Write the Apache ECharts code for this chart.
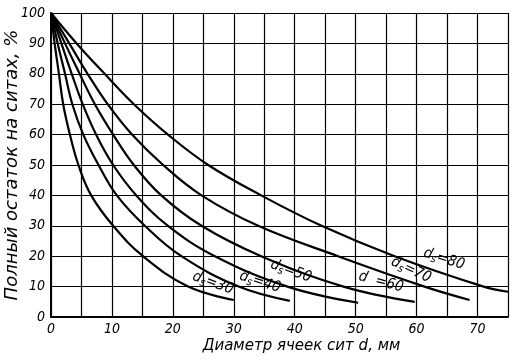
<!DOCTYPE html>
<html><head><meta charset="utf-8">
<script src="https://cdn.jsdelivr.net/npm/echarts@6/dist/echarts.min.js"></script>
<style>html,body{margin:0;padding:0;background:#fff}#c{width:512px;height:360px}</style>
</head><body><div id="c"></div>
<script>
// Curve data: [d (mm), residue (%)]
const ds30 = [[0,100],[0.6,90],[1.3,80],[2.0,70],[3.1,60],[4.5,50],[6.6,40],[10.2,30],[15.1,20],[22.5,10],[30,5.6]];
const ds40 = [[0,100],[1.1,90],[2.3,80],[3.5,70],[5.3,60],[7.8,50],[10.8,40],[15.4,30],[21.4,20],[30.8,10],[39.2,5.3]];
const ds50 = [[0,100],[1.7,90],[3.4,80],[5.2,70],[7.4,60],[10.2,50],[14.0,40],[19.2,30],[26.9,20],[38.8,10],[50.4,4.7]];
const ds60 = [[0,100],[2.3,90],[4.7,80],[7.2,70],[10.2,60],[13.6,50],[18.1,40],[24.7,30],[34.5,20],[48.0,10],[59.7,5.0]];
const ds70 = [[0,100],[3.0,90],[6.0,80],[9.3,70],[13.3,60],[18.4,50],[24.7,40],[34.0,30],[47.1,20],[61.3,10],[68.7,5.6]];
const ds80 = [[0,100],[4.2,90],[8.8,80],[13.6,70],[19.2,60],[25.8,50],[34.5,40],[44.4,30],[56.4,20],[71.0,10],[75,8.3]];
const curveNames = ['30','40','50','60','70','80'];
const yTicks = [0,10,20,30,40,50,60,70,80,90,100];
const xTicks = [0,10,20,30,40,50,60,70];

const font = 'DejaVu Sans Condensed';
const font2 = 'DejaVu Sans';
const chart = echarts.init(document.getElementById('c'), null, {renderer:'canvas'});
const curves = [ds30, ds40, ds50, ds60, ds70, ds80];
const series = curves.map((d,i)=>({
  type:'line', name:'ds='+curveNames[i], data:d, showSymbol:false, smooth:0.4,
  lineStyle:{color:'#000', width:2.2}, silent:true, z:5
}));
function lbl(text, sub, x, y, rot){
  return {type:'text', x:x, y:y, rotation:rot*Math.PI/180, z:10,
    style:{rich:{a:{fontFamily:font,fontStyle:'italic',fontSize:15,fill:'#000'},
                 s:{fontFamily:font,fontStyle:'italic',fontSize:11,fill:'#000',padding:[7,0,0,0]}},
      text:'{a|d}'+(sub?'{s|s}':'{a|  }')+'{a|='+text+'}', align:'center', verticalAlign:'middle', fill:'#000'}};
}
chart.setOption({
  animation:false,
  backgroundColor:'#fff',
  grid:{left:51, right:4, top:13, bottom:43, containLabel:false, outerBoundsMode:'none'},
  xAxis:{type:'value', min:0, max:75, interval:5,
    name:'Диаметр ячеек сит d, мм', nameLocation:'middle', nameGap:22, nameMoveOverlap:false,
    nameTextStyle:{fontFamily:font2, fontStyle:'italic', fontSize:15, color:'#000', padding:[0,0,0,44]},
    axisLine:{lineStyle:{color:'#000', width:2}}, axisTick:{show:false},
    axisLabel:{fontFamily:font, fontStyle:'italic', fontSize:14, color:'#000', margin:5,
      formatter:v=>xTicks.includes(v)?String(v):''},
    splitLine:{show:true, lineStyle:{color:'#000', width:1.2}}},
  yAxis:{type:'value', min:0, max:100, interval:10,
    name:'Полный остаток на ситах, %', nameLocation:'middle', nameGap:30, nameMoveOverlap:false,
    nameTextStyle:{fontFamily:font2, fontStyle:'italic', fontSize:18, color:'#000'},
    axisLine:{lineStyle:{color:'#000', width:2}}, axisTick:{show:false},
    axisLabel:{fontFamily:font, fontStyle:'italic', fontSize:14, color:'#000', margin:6,
      formatter:v=>yTicks.includes(v)?String(v):''},
    splitLine:{show:true, lineStyle:{color:'#000', width:1.2}}},
  series:series,
  graphic:[
    lbl('30',true,213,283,-20),
    lbl('40',true,260,282,-18),
    lbl('50',true,291,271,-20),
    lbl('60',false,381,282,-15),
    lbl('70',true,411,270,-25),
    lbl('80',true,444,259,-18)
  ]
});
</script></body></html>
